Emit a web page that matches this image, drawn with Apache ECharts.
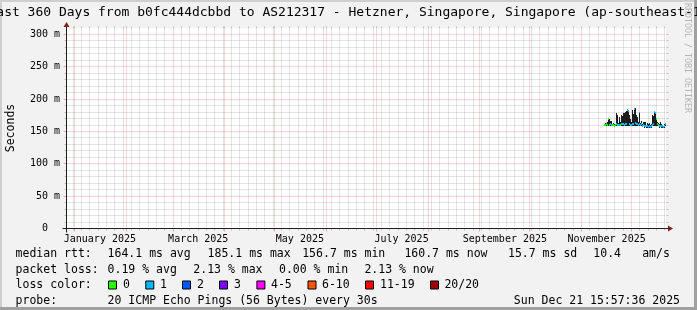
<!DOCTYPE html>
<html><head><meta charset="utf-8">
<script src="https://cdn.jsdelivr.net/npm/echarts@6/dist/echarts.min.js"></script>
<style>html,body{margin:0;padding:0;background:#f2f2f2;}#c{width:697px;height:310px;}</style>
</head><body><div id="c"></div>
<script>
// ---------- data ----------
const DAY = 86400000;
const endTs = Date.UTC(2025, 11, 21, 15, 57, 36);
const startTs = endTs - 360 * DAY;
const yMax = 309.3;

const monthLabels = ['January 2025', 'March 2025', 'May 2025', 'July 2025', 'September 2025', 'November 2025'];
const monthLabelMonths = [0, 2, 4, 6, 8, 10];          // month index in 2025, label centred 15 days after month start
const yTickValues = [0, 50, 100, 150, 200, 250, 300];
const yTickLabels = ['0  ', '50 m', '100 m', '150 m', '200 m', '250 m', '300 m'];

// samples every 12 h starting 2025-11-15 00:00
const sampleStart = Date.UTC(2025, 10, 15, 0, 0, 0);
const stepHours = 12;
const smokeHigh = [162,163,162,164, 170,169,163, 167,166,162, 163,161,160,161,
  178,176,163, 172,170,164, 175,174,179,178, 165,180,181, 183,182,165, 175,170,164,
  184,177,166, 186,187,175,172, 164,180,178,163, 167,162,165,164, 160,165,160,163,
  161,163,161,160,162, 175,174,176, 180,179, 170,165,163,161, 160,165,161,160,159,160,161,161];
const smokeLow = [158,158,158,158, 158,158,158, 158,158,158, 158,157,157,158,
  158,158,158, 158,158,158, 158,158,158,158, 158,158,158, 158,158,158, 158,158,158,
  158,158,158, 158,158,158,158, 158,158,158,158, 158,157,158,157, 156,157,156,156,
  155,156,156,155,156, 158,158,158, 158,158, 158,158,158,157, 156,157,156,156,155,156,157,158];
const medianRtt = [160,160,161,160, 169,161,160, 161,160,160, 160,159,159,160,
  161,160,160, 161,160,160, 161,162,161,162, 160,162,161, 183,182,160, 161,160,160,
  162,161,160, 185,163,162,161, 160,178,162,160, 161,159,160,159, 158,159,158,158,
  157,158,158,157,158, 160,161,160, 180,178, 169,161,160,159, 158,159,158,158,157,158,159,161];
const lossLevel = [0,0,0,0, 0,0,0, 1,1,0, 0,0,0,0,
  1,0,1, 1,1,0, 1,1,1,1, 1,1,1, 1,1,1, 1,1,1,
  1,1,1, 1,1,1,1, 1,1,1,1, 1,1,1,1, 1,1,1,1,
  1,1,1,1,1, 1,1,1, 1,1, 0,0,0,0, 1,1,1,1,1,1,1,1];

const lossLabels = ['0', '1', '2', '3', '4-5', '6-10', '11-19', '20/20'];
const lossColors = ['#26ff00', '#00b8ff', '#0059ff', '#7e00ff', '#ff00ff', '#ff5500', '#ff0000', '#a10000'];

const titleText = 'Last 360 Days from b0fc444dcbbd to AS212317 - Hetzner, Singapore, Singapore (ap-southeast-1)';
const medianRow = ['median rtt:', '164.1 ms avg', '185.1 ms max', '156.7 ms min', '160.7 ms now', '15.7 ms sd', '10.4', 'am/s'];
const lossRow = ['packet loss:', '0.19 % avg', '2.13 % max', '0.00 % min', '2.13 % now'];
const probeRow = ['probe:', '20 ICMP Echo Pings (56 Bytes) every 30s'];
const dateText = 'Sun Dec 21 15:57:36 2025';

// ---------- layout ----------
const G = {left: 66, top: 28.5, width: 600, height: 200};
const medianRowX = [15.6, 107.6, 207.6, 302.2, 404.4, 508, 593.3, 642.2];
const lossRowX = [15.6, 107.6, 193.3, 279, 364.4];
const probeRowX = [15.6, 107.6];
const lossBoxX = [108, 145.3, 182, 219, 256.4, 307.5, 365, 430];
const lossTextX = [123, 160, 197, 234, 271, 322, 380, 444.4];
const rowY = [254.5, 270, 285.5, 301];
const MONO = '"DejaVu Sans Mono", monospace';

// ---------- derived ----------
const labelTs = monthLabelMonths.map(m => Date.UTC(2025, m, 1) + 15 * DAY);
const samples = smokeHigh.map((h, i) => [sampleStart + i * stepHours * 3600000, smokeLow[i], h, medianRtt[i], lossLevel[i]]);

const vGrid = [];
for (let m = 0; m < 24; m++) {
  const t = Date.UTC(2024, 11 + m, 1);
  if (t > startTs && t < endTs) vGrid.push([t, 0, 1]);
}
const firstMinor = Date.UTC(2024, 11, 26);
for (let t = firstMinor; t < endTs; t += 5 * DAY) {
  if (t > startTs && !vGrid.some(g => Math.abs(g[0] - t) < DAY / 2)) vGrid.push([t, 0, 0]);
}
const hGrid = [];
for (let v = 10; v <= 300; v += 10) hGrid.push([startTs, v, v % 50 === 0 ? 1 : 0]);

const GRID_MINOR = 'rgba(143,143,143,0.5)';
const GRID_MAJOR = 'rgba(222,79,79,0.45)';
const snap = v => Math.floor(v) + 0.5;

function renderV(params, api) {
  const ts = api.value(0), major = api.value(2);
  const top = api.coord([ts, yMax]), bot = api.coord([ts, 0]);
  const x = snap(top[0]), yT = snap(top[1]), yB = snap(bot[1]);
  const c = major ? GRID_MAJOR : GRID_MINOR;
  return {type: 'group', children: [
    {type: 'line', shape: {x1: x, y1: yT + 1, x2: x, y2: yB - 1}, style: {stroke: c, lineWidth: 1, lineDash: [1, 1]}},
    {type: 'line', shape: {x1: x, y1: yT - 2, x2: x, y2: yT}, style: {stroke: c, lineWidth: 1}},
    {type: 'line', shape: {x1: x, y1: yB, x2: x, y2: yB + (major ? 3 : 2)}, style: {stroke: c, lineWidth: 1}}
  ]};
}
function renderH(params, api) {
  const v = api.value(1), major = api.value(2);
  const l = api.coord([startTs, v]), r = api.coord([endTs, v]);
  const y = snap(l[1]), xL = snap(l[0]), xR = snap(r[0]);
  const c = major ? GRID_MAJOR : GRID_MINOR;
  return {type: 'group', children: [
    {type: 'line', shape: {x1: xL + 1, y1: y, x2: xR - 1, y2: y}, style: {stroke: c, lineWidth: 1, lineDash: [1, 1]}},
    {type: 'line', shape: {x1: xL - (major ? 3 : 2), y1: y, x2: xL, y2: y}, style: {stroke: c, lineWidth: 1}},
    {type: 'line', shape: {x1: xR, y1: y, x2: xR + 2, y2: y}, style: {stroke: c, lineWidth: 1}}
  ]};
}
function renderData(params, api) {
  const ts = api.value(0), lo = api.value(1), hi = api.value(2), med = api.value(3), loss = api.value(4);
  const half = stepHours * 3600000 / 2;
  const a = api.coord([ts - half, hi]), b = api.coord([ts + half, lo]), m = api.coord([ts, med]);
  let x0 = Math.round(a[0]), x1 = Math.round(b[0]);
  if (x1 <= x0) x1 = x0 + 1;
  const yT = Math.round(a[1]), yB = Math.round(b[1]), yM = Math.round(m[1]);
  return {type: 'group', children: [
    {type: 'rect', shape: {x: x0, y: yT, width: x1 - x0, height: Math.max(1, yB - yT)}, style: {fill: '#1c1c1c'}},
    {type: 'rect', shape: {x: x0, y: yM - 1, width: x1 - x0, height: 2}, style: {fill: lossColors[loss]}}
  ]};
}
function renderAxes(params, api) {
  const o = api.coord([startTs, 0]), e = api.coord([endTs, yMax]);
  const ox = snap(o[0]), oy = snap(o[1]), ex = Math.round(e[0]), ey = Math.round(e[1]);
  const AX = '#1f1f1f', AR = 'rgb(128,31,31)';
  return {type: 'group', children: [
    {type: 'line', shape: {x1: ox - 4, y1: oy, x2: ex + 4, y2: oy}, style: {stroke: AX, lineWidth: 1}},
    {type: 'line', shape: {x1: ox, y1: oy + 4, x2: ox, y2: ey - 4}, style: {stroke: AX, lineWidth: 1}},
    {type: 'polygon', shape: {points: [[ex + 2, oy - 3], [ex + 2, oy + 3], [ex + 7, oy]]}, style: {fill: AR}},
    {type: 'polygon', shape: {points: [[ox - 3, ey - 2], [ox + 3, ey - 2], [ox, ey - 7]]}, style: {fill: AR}}
  ]};
}

// ---------- graphic texts ----------
const graphics = [];
graphics.push({type: 'rect', shape: {x: 0, y: 0, width: 697, height: 2}, style: {fill: '#cfcfcf'}, silent: true});
graphics.push({type: 'rect', shape: {x: 0, y: 0, width: 2, height: 310}, style: {fill: '#cfcfcf'}, silent: true});
graphics.push({type: 'rect', shape: {x: 0, y: 307, width: 697, height: 3}, style: {fill: '#a0a0a0'}, silent: true});
graphics.push({type: 'rect', shape: {x: 694, y: 0, width: 3, height: 310}, style: {fill: '#a0a0a0'}, silent: true});
function txt(t, x, y, size, extra) {
  return Object.assign({type: 'text', x: x, y: y, silent: true,
    style: Object.assign({text: t, fontFamily: MONO, fontSize: size, fill: '#000', align: 'left', verticalAlign: 'middle'}, extra || {})});
}
graphics.push(txt(titleText, 348.5, 12.5, 13, {align: 'center'}));
graphics.push(Object.assign(txt('Seconds', 11, 128, 11.5, {align: 'center'}), {rotation: Math.PI / 2}));
graphics.push(Object.assign(txt('RRDTOOL / TOBI OETIKER', 687.5, 58, 8.3, {align: 'center', fill: '#b4b4b4'}), {rotation: -Math.PI / 2}));
medianRow.forEach((t, i) => graphics.push(txt(t, medianRowX[i], rowY[0], 11.5)));
lossRow.forEach((t, i) => graphics.push(txt(t, lossRowX[i], rowY[1], 11.5)));
graphics.push(txt('loss color:', 15.6, rowY[2], 11.5));
lossLabels.forEach((t, i) => {
  graphics.push({type: 'rect', silent: true, shape: {x: lossBoxX[i] + 0.5, y: rowY[2] - 4.5, width: 8, height: 8},
    style: {fill: lossColors[i], stroke: '#000', lineWidth: 1}});
  graphics.push(txt(t, lossTextX[i], rowY[2], 11.5));
});
probeRow.forEach((t, i) => graphics.push(txt(t, probeRowX[i], rowY[3], 11.5)));
graphics.push(txt(dateText, 680, rowY[3], 11.5, {align: 'right'}));

const chart = echarts.init(document.getElementById('c'), null, {renderer: 'canvas', width: 697, height: 310});
chart.setOption({
  animation: false,
  backgroundColor: '#f2f2f2',
  grid: Object.assign({show: true, backgroundColor: '#ffffff', borderWidth: 0}, G),
  xAxis: {
    type: 'value', min: startTs, max: endTs,
    axisLine: {show: false}, axisTick: {show: false}, splitLine: {show: false},
    axisLabel: {
      customValues: labelTs, showMinLabel: true, showMaxLabel: true, hideOverlap: false,
      formatter: v => { const k = labelTs.indexOf(v); return k >= 0 ? monthLabels[k] : ''; },
      fontFamily: MONO, fontSize: 10, color: '#000', margin: 6
    }
  },
  yAxis: {
    type: 'value', min: 0, max: yMax, interval: 50,
    axisLine: {show: false}, axisTick: {show: false}, splitLine: {show: false},
    axisLabel: {
      customValues: yTickValues,
      formatter: v => { const k = yTickValues.indexOf(v); return k >= 0 ? yTickLabels[k] : ''; },
      fontFamily: MONO, fontSize: 10, color: '#000', margin: 6
    }
  },
  series: [
    {type: 'custom', name: 'vgrid', data: vGrid, renderItem: renderV, encode: {x: 0, y: 1}, silent: true, z: 1, clip: false},
    {type: 'custom', name: 'hgrid', data: hGrid, renderItem: renderH, encode: {x: 0, y: 1}, silent: true, z: 1, clip: false},
    {type: 'custom', name: 'rtt', data: samples, renderItem: renderData, encode: {x: 0, y: [1, 2, 3]}, silent: true, z: 2},
    {type: 'custom', name: 'axes', data: [[startTs, 0]], renderItem: renderAxes, encode: {x: 0, y: 1}, silent: true, z: 3, clip: false}
  ],
  graphic: graphics
});
</script>
</body></html>
